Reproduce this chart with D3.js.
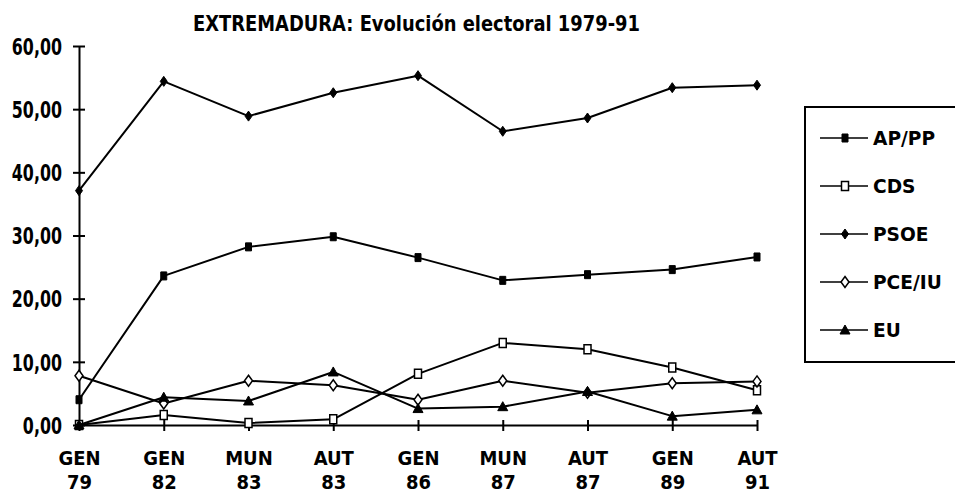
<!DOCTYPE html>
<html>
<head>
<meta charset="utf-8">
<script src="https://cdn.jsdelivr.net/npm/d3@7"></script>
<style>
  html, body { margin: 0; padding: 0; background: #fff; }
  svg { display: block; }
  text { font-family: "DejaVu Sans", sans-serif; font-weight: bold; fill: #000; }
</style>
</head>
<body>
<div id="chart"></div>
<script>
const title = 'EXTREMADURA: Evolución electoral 1979-91';
const elections = ['GEN 79', 'GEN 82', 'MUN 83', 'AUT 83', 'GEN 86', 'MUN 87', 'AUT 87', 'GEN 89', 'AUT 91'];
const yTicks = [0, 10, 20, 30, 40, 50, 60];

const parties = ['AP/PP', 'CDS', 'PSOE', 'PCE/IU', 'EU'];
const apPP  = [4.0, 23.6, 28.2, 29.8, 26.5, 22.9, 23.8, 24.6, 26.6];
const cds   = [0.0, 1.6, 0.3, 0.9, 8.1, 13.0, 12.0, 9.1, 5.5];
const psoe  = [37.1, 54.4, 48.9, 52.6, 55.3, 46.5, 48.6, 53.4, 53.8];
const pceIU = [7.8, 3.4, 7.0, 6.3, 4.0, 7.0, 5.1, 6.6, 6.9];
const eu    = [0.0, 4.4, 3.8, 8.4, 2.6, 2.9, 5.3, 1.4, 2.4];

const markers = ['square', 'openSquare', 'diamond', 'openDiamond', 'triangle'];

const CONFIG = {
  width: 955,
  height: 494,
  x0: 79, x1: 757,
  yTop: 46, yBottom: 425,
  lineWidth: 2,
  legend: { x: 805, y: 107, w: 170, bottom: 362, firstRow: 138, rowStep: 48,
            lineX1: 820, lineX2: 868, markerX: 845, textX: 873 }
};

const series = parties.map((name, i) => ({
  name,
  marker: markers[i],
  values: [apPP, cds, psoe, pceIU, eu][i]
}));

// marker paths, centred at 0,0
const markerPath = (type) => {
  switch (type) {
    case 'square':      return 'M-3,-4H3V4H-3Z';
    case 'openSquare':  return 'M-3.5,-4.5H3.5V4.5H-3.5Z';
    case 'diamond':     return 'M0,-5L3.5,0L0,5L-3.5,0Z';
    case 'openDiamond': return 'M0,-5.5L4,0L0,5.5L-4,0Z';
    case 'triangle':    return 'M0,-5L5,4H-5Z';
  }
};
const isOpen = (type) => type.startsWith('open');

const svg = d3.select('#chart').append('svg')
  .attr('width', CONFIG.width)
  .attr('height', CONFIG.height);

const x = d3.scalePoint().domain(elections).range([CONFIG.x0, CONFIG.x1]);
const y = d3.scaleLinear().domain([0, 60]).range([CONFIG.yBottom, CONFIG.yTop]);

// title
svg.append('text')
  .attr('x', 193)
  .attr('y', 31)
  .attr('textLength', 447)
  .attr('lengthAdjust', 'spacingAndGlyphs')
  .style('font-size', '22px')
  .text(title);

// y axis
const yAxis = d3.axisLeft(y)
  .tickValues(yTicks)
  .tickSizeInner(0)
  .tickSizeOuter(0)
  .tickFormat(d => d3.format('.2f')(d).replace('.', ','));

const $yAxis = svg.append('g')
  .attr('transform', `translate(${CONFIG.x0},0)`)
  .call(yAxis);
$yAxis.select('.domain').attr('stroke-width', CONFIG.lineWidth);
$yAxis.selectAll('.tick text')
  .attr('x', 0)
  .attr('dy', '0.36em')
  .attr('transform', 'translate(-17,0) scale(0.69,1)')
  .attr('font-family', null)
  .attr('font-size', null)
  .style('font-size', '23px');
$yAxis.selectAll('.tick').append('line')
  .attr('x1', -6).attr('x2', 6)
  .attr('stroke', '#000').attr('stroke-width', CONFIG.lineWidth);

// x axis
const xAxis = d3.axisBottom(x).tickSize(0).tickFormat('');
const $xAxis = svg.append('g')
  .attr('transform', `translate(0,${CONFIG.yBottom})`)
  .call(xAxis);
$xAxis.select('.domain').attr('stroke-width', CONFIG.lineWidth);
$xAxis.selectAll('.tick').append('line')
  .attr('y1', -5).attr('y2', 6)
  .attr('stroke', '#000').attr('stroke-width', CONFIG.lineWidth);
$xAxis.selectAll('.tick text').remove();
// two-line labels: election type above, year below
$xAxis.selectAll('.tick').append('text')
  .attr('text-anchor', 'middle')
  .attr('transform', 'translate(0,40) scale(0.9,1)')
  .style('font-size', '20px')
  .text(d => d.split(' ')[0]);
$xAxis.selectAll('.tick').append('text')
  .attr('text-anchor', 'middle')
  .attr('transform', 'translate(0,64) scale(0.9,1)')
  .style('font-size', '20px')
  .text(d => d.split(' ')[1]);

// lines
const line = d3.line()
  .x((d, i) => x(elections[i]))
  .y(d => y(d));

const $series = svg.append('g').selectAll('g.series')
  .data(series)
  .join('g').attr('class', 'series');

$series.append('path')
  .attr('d', d => line(d.values))
  .attr('fill', 'none')
  .attr('stroke', '#000')
  .attr('stroke-width', CONFIG.lineWidth)
  .attr('stroke-linejoin', 'round');

$series.each(function (s) {
  d3.select(this).selectAll('path.marker')
    .data(s.values)
    .join('path')
    .attr('class', 'marker')
    .attr('transform', (d, i) => `translate(${x(elections[i])},${y(d)})`)
    .attr('d', markerPath(s.marker))
    .attr('fill', isOpen(s.marker) ? '#fff' : '#000')
    .attr('stroke', '#000')
    .attr('stroke-width', isOpen(s.marker) ? 1.5 : 1);
});

// legend
const L = CONFIG.legend;
const $legend = svg.append('g');
$legend.append('rect')
  .attr('x', L.x).attr('y', L.y)
  .attr('width', L.w).attr('height', L.bottom - L.y)
  .attr('fill', 'none').attr('stroke', '#000').attr('stroke-width', CONFIG.lineWidth);

const $items = $legend.selectAll('g.item')
  .data(series)
  .join('g').attr('class', 'item')
  .attr('transform', (d, i) => `translate(0,${L.firstRow + i * L.rowStep})`);

$items.append('line')
  .attr('x1', L.lineX1).attr('x2', L.lineX2)
  .attr('stroke', '#000').attr('stroke-width', 1.5);
$items.append('path')
  .attr('transform', `translate(${L.markerX},0)`)
  .attr('d', d => markerPath(d.marker))
  .attr('fill', d => isOpen(d.marker) ? '#fff' : '#000')
  .attr('stroke', '#000')
  .attr('stroke-width', d => isOpen(d.marker) ? 1.5 : 1);
$items.append('text')
  .attr('transform', `translate(${L.textX},0) scale(0.93,1)`)
  .attr('dy', '0.36em')
  .style('font-size', '20px')
  .text(d => d.name);
</script>
</body>
</html>
